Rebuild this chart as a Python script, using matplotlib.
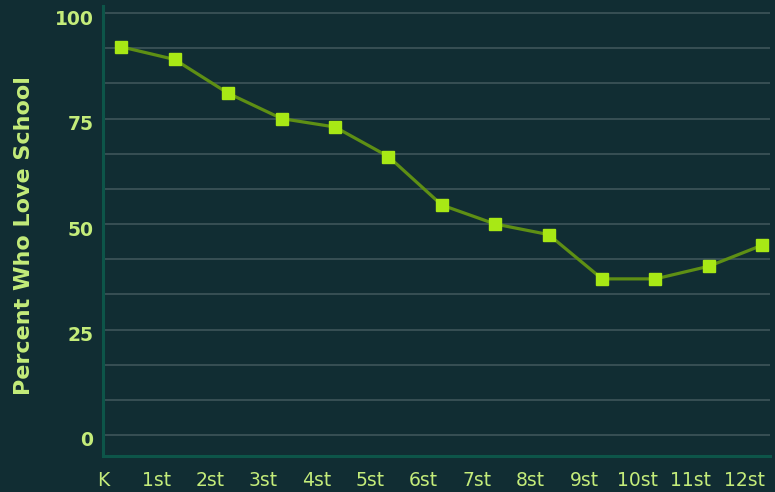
import numpy as np
import matplotlib.pyplot as plt
from matplotlib.transforms import ScaledTranslation

grades = ['K', '1st', '2st', '3st', '4st', '5st', '6st', '7st', '8st', '9st', '10st', '11st', '12st']
percent_love = [92, 89, 81, 75, 73, 66, 54.5, 50, 47.5, 37, 37, 40, 45]
y_ticks = [0, 25, 50, 75, 100]

bg = '#112d33'
txt = '#c4ec7a'

fig = plt.figure(figsize=(7.75, 4.92), dpi=100, facecolor=bg)
ax = fig.add_axes([0.133, 0.073, 0.861, 0.915], facecolor=bg)

x = np.arange(len(grades))
ax.plot(x, percent_love, color='#5e8f14', lw=2.3, zorder=3)
ax.plot(x, percent_love, ls='none', marker='s', ms=8.8, color='#a8e815', zorder=4)

ax.set_xlim(-0.34, 12.15)
ax.set_ylim(-5, 101.7)

ax.set_yticks(y_ticks)
ax.set_yticks(np.arange(0, 101, 100 / 12), minor=True)
ax.grid(True, which='both', axis='y', color='#42595d', lw=1.1)
ax.set_axisbelow(True)
ax.set_xticks(x)
ax.set_xticklabels(grades, fontsize=13.5, color=txt)
ax.set_yticklabels([str(v) for v in y_ticks], fontsize=13.5, fontweight='bold', color=txt)
ax.tick_params(which='both', length=0)
ax.tick_params(axis='x', pad=11)
ax.tick_params(axis='y', pad=7)

# shift category labels a bit left, like the reference
for lab in ax.get_xticklabels():
    lab.set_transform(lab.get_transform() + ScaledTranslation(-18 / 100, 0, fig.dpi_scale_trans))
for lab in ax.get_yticklabels():
    lab.set_transform(lab.get_transform() + ScaledTranslation(0, -4 / 100, fig.dpi_scale_trans))

for s in ['top', 'right']:
    ax.spines[s].set_visible(False)
for s in ['left', 'bottom']:
    ax.spines[s].set_color('#0d5549')
    ax.spines[s].set_linewidth(2.2)

ax.set_ylabel('Percent Who Love School', fontsize=16, fontweight='bold', color=txt)
ax.yaxis.set_label_coords(-0.104, 0.49)

fig.savefig('out.png', facecolor=bg)
